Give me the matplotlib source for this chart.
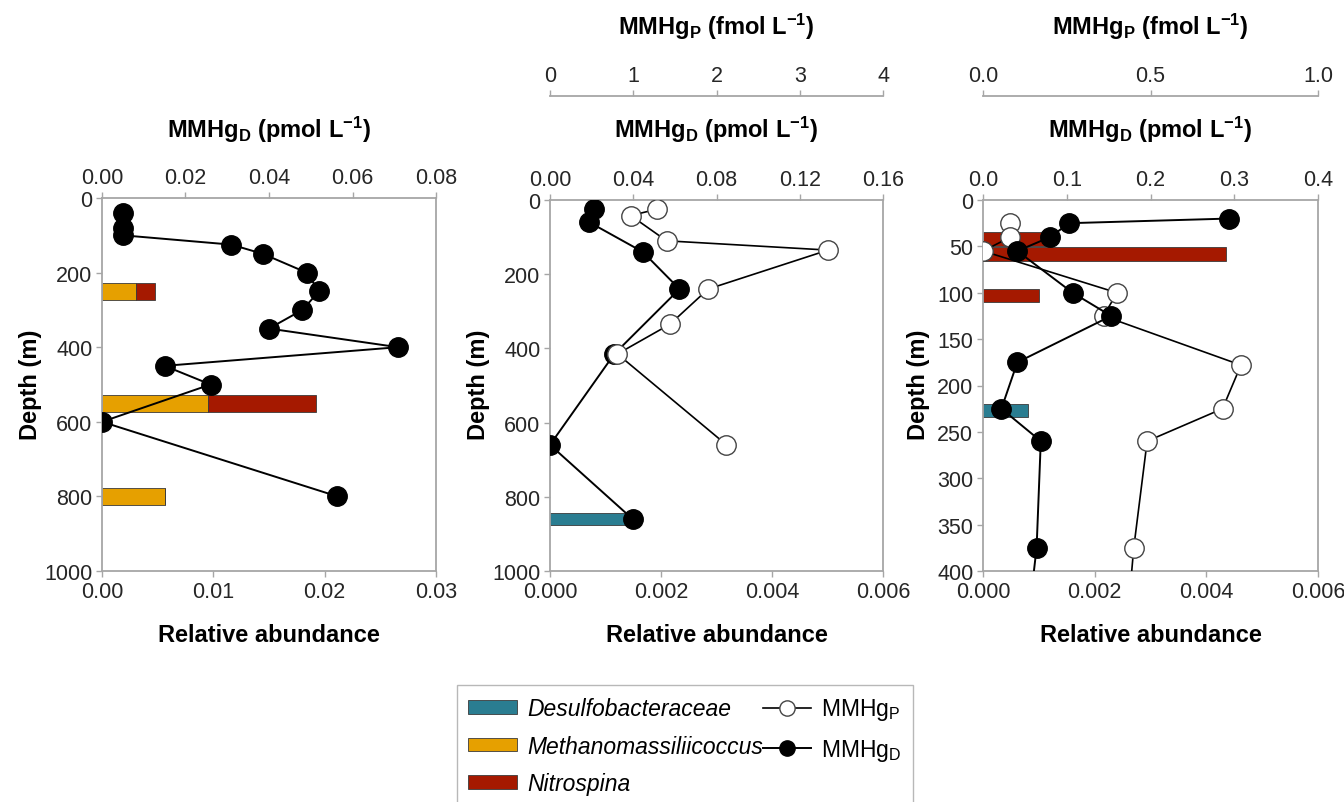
import matplotlib
matplotlib.use('Agg')
import matplotlib.pyplot as plt
from matplotlib.patches import Patch
from matplotlib.lines import Line2D

plt.rcParams['font.family'] = ['Liberation Sans', 'DejaVu Sans']
plt.rcParams['mathtext.fontset'] = 'custom'
plt.rcParams['mathtext.rm'] = 'Liberation Sans'
plt.rcParams['mathtext.it'] = 'Liberation Sans:italic'
plt.rcParams['mathtext.bf'] = 'Liberation Sans:bold'

# colours
C_DESULFO = '#2a7d91'
C_METHANO = '#e6a000'
C_NITRO = '#a51900'
SPINE = '#a6a6a6'
TICKTXT = '#262626'

# ---- panel 1 data ----
p1_mmhgd_depth = [40, 80, 100, 125, 150, 200, 250, 300, 350, 400, 450, 500, 600, 800]
p1_mmhgd = [0.005, 0.005, 0.005, 0.031, 0.0386, 0.049, 0.052, 0.048, 0.040,
            0.0709, 0.015, 0.026, 0.0, 0.0564]
p1_bar_depth = [250, 550, 800]
p1_methano = [0.00306, 0.00954, 0.0057]
p1_nitro = [0.00174, 0.00972, 0.0]

# ---- panel 2 data ----
p2_mmhgd_depth = [25, 60, 140, 240, 415, 660, 860]
p2_mmhgd = [0.0212, 0.0189, 0.0446, 0.0622, 0.0309, 0.0, 0.0397]
p2_mmhgp_depth = [25, 42, 110, 135, 240, 335, 415, 660]
p2_mmhgp = [1.28, 0.97, 1.40, 3.34, 1.90, 1.44, 0.81, 2.12]
p2_desulfo_depth = [860]
p2_desulfo = [0.00143]

# ---- panel 3 data ----
p3_mmhgd_depth = [20, 25, 40, 55, 100, 125, 175, 225, 260, 375, 500]
p3_mmhgd = [0.294, 0.103, 0.080, 0.041, 0.107, 0.153, 0.041, 0.022, 0.069, 0.064, 0.048]
p3_mmhgp_depth = [25, 40, 55, 100, 125, 178, 225, 260, 375, 500]
p3_mmhgp = [0.082, 0.082, 0.0, 0.40, 0.36, 0.77, 0.715, 0.49, 0.45, 0.42]
p3_nitro_depth = [42, 58, 103]
p3_nitro = [0.00114, 0.00435, 0.00101]
p3_desulfo_depth = [227]
p3_desulfo = [0.00081]

# axis ticks
p1_depth_ticks = [0, 200, 400, 600, 800, 1000]
p3_depth_ticks = [0, 50, 100, 150, 200, 250, 300, 350, 400]
p1_rel_ticks = [0.0, 0.01, 0.02, 0.03]
p23_rel_ticks = [0.0, 0.002, 0.004, 0.006]
p1_d_ticks = [0.0, 0.02, 0.04, 0.06, 0.08]
p2_d_ticks = [0.0, 0.04, 0.08, 0.12, 0.16]
p3_d_ticks = [0.0, 0.1, 0.2, 0.3, 0.4]
p2_p_ticks = [0, 1, 2, 3, 4]
p3_p_ticks = [0.0, 0.5, 1.0]

TITLE_D = r'MMHg$_\mathbf{D}$ (pmol L$^{\mathbf{-1}}$)'
TITLE_P = r'MMHg$_\mathbf{P}$ (fmol L$^{\mathbf{-1}}$)'

W, H = 1344, 803
fig = plt.figure(figsize=(W / 100, H / 100), dpi=100)


def px_axes(left, top, right, bottom):
    return fig.add_axes([left / W, 1 - bottom / H, (right - left) / W, (bottom - top) / H])


def style(ax, which):
    for name, sp in ax.spines.items():
        sp.set_color(SPINE)
        sp.set_linewidth(1.3)
        sp.set_visible(name in which)
    ax.tick_params(direction='out', length=4, width=1, color=SPINE,
                   labelsize=15.5, labelcolor=TICKTXT, pad=3)


def base_axes(box, depth_max, depth_ticks, rel_max, rel_ticks, fmt):
    ax = px_axes(*box)
    ax.set_ylim(depth_max, 0)
    ax.set_xlim(0, rel_max)
    ax.set_yticks(depth_ticks)
    ax.set_xticks(rel_ticks)
    ax.set_xticklabels([fmt.format(v) for v in rel_ticks])
    ax.tick_params(axis='x', top=False)
    style(ax, ['left', 'right', 'top', 'bottom'])
    return ax


def d_axis(ax, dmax, ticks, fmt, depth, vals):
    axd = ax.twiny()
    axd.set_xlim(0, dmax)
    axd.set_xticks(ticks)
    axd.set_xticklabels([fmt.format(v) for v in ticks])
    style(axd, [])
    axd.plot(vals, depth, color='black', lw=1.4, marker='o', ms=14,
             mfc='black', mec='black', zorder=3)
    axd.set_ylim(ax.get_ylim())
    return axd


def p_axis(ax, pmax, ticks, fmt, depth, vals):
    axp = ax.twiny()
    axp.set_xlim(0, pmax)
    axp.set_xticks(ticks)
    axp.set_xticklabels([fmt.format(v) for v in ticks])
    style(axp, ['top'])
    axp.spines['top'].set_position(('outward', 75))
    axp.plot(vals, depth, color='black', lw=1.2, marker='o', ms=14,
             mfc='white', mec='#444444', mew=1.0, zorder=3)
    axp.set_ylim(ax.get_ylim())
    return axp


def bar(ax, depth, width, left, color, height):
    ax.barh(depth, width, left=left, height=height, color=color,
            edgecolor='#3a3a3a', linewidth=0.6, zorder=2)


boxes = [(102, 199, 436, 572), (550, 201, 883, 572), (983, 201, 1318, 572)]

# panel 1
ax1 = base_axes(boxes[0], 1000, p1_depth_ticks, 0.03, p1_rel_ticks, '{:.2f}')
bar(ax1, p1_bar_depth, p1_methano, 0, C_METHANO, 46)
bar(ax1, p1_bar_depth, p1_nitro, p1_methano, C_NITRO, 46)
d_axis(ax1, 0.08, p1_d_ticks, '{:.2f}', p1_mmhgd_depth, p1_mmhgd)

# panel 2 (open circles on top)
ax2 = base_axes(boxes[1], 1000, p1_depth_ticks, 0.006, p23_rel_ticks, '{:.3f}')
bar(ax2, p2_desulfo_depth, p2_desulfo, 0, C_DESULFO, 30)
d_axis(ax2, 0.16, p2_d_ticks, '{:.2f}', p2_mmhgd_depth, p2_mmhgd)
p_axis(ax2, 4, p2_p_ticks, '{:d}', p2_mmhgp_depth, p2_mmhgp)

# panel 3 (filled circles on top)
ax3 = base_axes(boxes[2], 400, p3_depth_ticks, 0.006, p23_rel_ticks, '{:.3f}')
bar(ax3, p3_nitro_depth, p3_nitro, 0, C_NITRO, 15)
bar(ax3, p3_desulfo_depth, p3_desulfo, 0, C_DESULFO, 15)
p_axis(ax3, 1.0, p3_p_ticks, '{:.1f}', p3_mmhgp_depth, p3_mmhgp)
d_axis(ax3, 0.4, p3_d_ticks, '{:.1f}', p3_mmhgd_depth, p3_mmhgd)

# labels
label_kw = dict(fontsize=17, fontweight='bold', color='black', ha='center', va='center')
depth_x = [30, 478, 918]
for i, (l, t, r, b) in enumerate(boxes):
    cx = (l + r) / 2 / W
    fig.text(cx, 1 - 636 / H, 'Relative abundance', **label_kw)
    fig.text(cx, 1 - 130 / H, TITLE_D, **label_kw)
    if i > 0:
        fig.text(cx, 1 - 27 / H, TITLE_P, **label_kw)
    fig.text(depth_x[i] / W, 1 - 385 / H, 'Depth (m)', rotation=90, **label_kw)

# legend
handles = [
    Patch(facecolor=C_DESULFO, edgecolor='#3a3a3a', linewidth=0.6),
    Patch(facecolor=C_METHANO, edgecolor='#3a3a3a', linewidth=0.6),
    Patch(facecolor=C_NITRO, edgecolor='#3a3a3a', linewidth=0.6),
    Line2D([], [], color='black', lw=1.2, marker='o', ms=11, mfc='white', mec='#444444'),
    Line2D([], [], color='black', lw=1.4, marker='o', ms=11, mfc='black', mec='black'),
    Line2D([], [], alpha=0),
]
labels = ['Desulfobacteraceae', 'Methanomassiliicoccus', 'Nitrospina',
          r'MMHg$_\mathrm{P}$', r'MMHg$_\mathrm{D}$', '']
leg = fig.legend(handles, labels, loc='upper left', bbox_to_anchor=(457 / W, 1 - 686 / H),
                 ncol=2, fontsize=16.5, frameon=True, fancybox=False, edgecolor=SPINE,
                 handlelength=2.1, handleheight=0.55, handletextpad=0.45,
                 columnspacing=0.0, labelspacing=0.62, borderpad=0.5, borderaxespad=0)
leg.get_frame().set_linewidth(1.0)
for txt in leg.get_texts()[:3]:
    txt.set_style('italic')

fig.savefig('out.png', dpi=100)
